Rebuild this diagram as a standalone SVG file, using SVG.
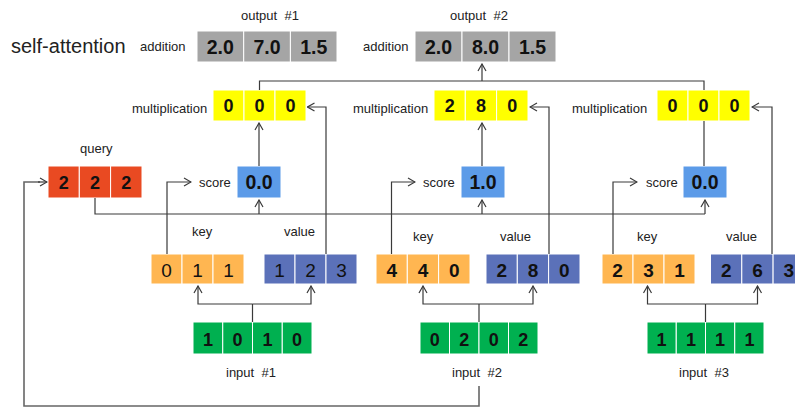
<svg xmlns="http://www.w3.org/2000/svg" width="795" height="408" viewBox="0 0 795 408">
<style>
text{font-family:"Liberation Sans",Arial,sans-serif;fill:#222}
.lbl{font-size:13px}
.title{font-size:20px}
.n{font-weight:bold;text-anchor:middle;fill:#111}
.ng{font-size:19.5px}
.ny{font-size:18px}
.nk{font-size:19px}
.nr{font-weight:normal}
rect{stroke:#fff;stroke-width:1}
.gray{fill:#A5A5A5}
.yel{fill:#FFFF00}
.red{fill:#E94A22}
.sc{fill:#5C9BE8}
.key{fill:#FFB651}
.val{fill:#5B71B9}
.grn{fill:#00B050}
.c{fill:none;stroke:#3a3a3a;stroke-width:1.2}
.cb{fill:none;stroke:#666;stroke-width:1.6}
</style>
<defs>
<marker id="ar" markerUnits="userSpaceOnUse" markerWidth="10" markerHeight="10" viewBox="0 0 10 10" refX="9" refY="5" orient="auto">
<path d="M2,1 L9,5 L2,9" fill="none" stroke="#3a3a3a" stroke-width="1.2"/>
</marker>
</defs>

<text class="title" x="11" y="53">self-attention</text>

<g id="output1">
<text class="lbl" x="241" y="19.5">output</text><text class="lbl" x="284.5" y="19.5">#1</text>
<text class="lbl" x="140" y="51">addition</text>
<rect class="gray" x="197" y="31" width="46.7" height="31"/>
<rect class="gray" x="243.7" y="31" width="46.7" height="31"/>
<rect class="gray" x="290.4" y="31" width="46.6" height="31"/>
<text class="n ng" x="220.3" y="53.5">2.0</text>
<text class="n ng" x="267" y="53.5">7.0</text>
<text class="n ng" x="313.7" y="53.5">1.5</text>
</g>

<g id="output2">
<text class="lbl" x="450" y="19.5">output</text><text class="lbl" x="493.5" y="19.5">#2</text>
<text class="lbl" x="363" y="51">addition</text>
<rect class="gray" x="415" y="31" width="47" height="31"/>
<rect class="gray" x="462" y="31" width="47" height="31"/>
<rect class="gray" x="509" y="31" width="47" height="31"/>
<text class="n ng" x="438.5" y="53.5">2.0</text>
<text class="n ng" x="485.5" y="53.5">8.0</text>
<text class="n ng" x="532.5" y="53.5">1.5</text>
</g>

<g id="mult1">
<text class="lbl" x="132" y="113">multiplication</text>
<rect class="yel" x="213" y="90" width="31" height="31"/>
<rect class="yel" x="244" y="90" width="31" height="31"/>
<rect class="yel" x="275" y="90" width="31" height="31"/>
<text class="n ny" x="228.5" y="112">0</text>
<text class="n ny" x="259.5" y="112">0</text>
<text class="n ny" x="290.5" y="112">0</text>
</g>

<g id="mult2">
<text class="lbl" x="353" y="113">multiplication</text>
<rect class="yel" x="434" y="90" width="31.3" height="31"/>
<rect class="yel" x="465.3" y="90" width="31.3" height="31"/>
<rect class="yel" x="496.6" y="90" width="31.4" height="31"/>
<text class="n ny" x="449.7" y="112">2</text>
<text class="n ny" x="481" y="112">8</text>
<text class="n ny" x="512.3" y="112">0</text>
</g>

<g id="mult3">
<text class="lbl" x="572" y="113">multiplication</text>
<rect class="yel" x="657" y="90" width="31" height="31"/>
<rect class="yel" x="688" y="90" width="31" height="31"/>
<rect class="yel" x="719" y="90" width="31" height="31"/>
<text class="n ny" x="672.5" y="112">0</text>
<text class="n ny" x="703.5" y="112">0</text>
<text class="n ny" x="734.5" y="112">0</text>
</g>

<g id="query">
<text class="lbl" x="80" y="153">query</text>
<rect class="red" x="48" y="166" width="31.3" height="32"/>
<rect class="red" x="79.3" y="166" width="31.3" height="32"/>
<rect class="red" x="110.6" y="166" width="31.4" height="32"/>
<text class="n ny" x="63.7" y="188.5">2</text>
<text class="n ny" x="95" y="188.5">2</text>
<text class="n ny" x="126.3" y="188.5">2</text>
</g>

<g id="score1">
<text class="lbl" x="199" y="186.5">score</text>
<rect class="sc" x="237" y="166" width="44" height="32"/>
<text class="n ng" x="259" y="189">0.0</text>
</g>
<g id="score2">
<text class="lbl" x="423" y="186.5">score</text>
<rect class="sc" x="461" y="166" width="44" height="32"/>
<text class="n ng" x="483" y="189">1.0</text>
</g>
<g id="score3">
<text class="lbl" x="646" y="186.5">score</text>
<rect class="sc" x="683" y="166" width="44" height="32"/>
<text class="n ng" x="705" y="189">0.0</text>
</g>

<g id="key1">
<text class="lbl" x="192" y="235.5">key</text>
<rect class="key" x="151" y="254" width="31" height="30"/>
<rect class="key" x="182" y="254" width="31" height="30"/>
<rect class="key" x="213" y="254" width="31" height="30"/>
<text class="n nk nr" x="166.5" y="276.5">0</text>
<text class="n nk nr" x="197.5" y="276.5">1</text>
<text class="n nk nr" x="228.5" y="276.5">1</text>
</g>
<g id="value1">
<text class="lbl" x="284" y="235.5">value</text>
<rect class="val" x="264" y="254" width="31" height="30"/>
<rect class="val" x="295" y="254" width="31" height="30"/>
<rect class="val" x="326" y="254" width="31" height="30"/>
<text class="n nk nr" x="279.5" y="276.5">1</text>
<text class="n nk nr" x="310.5" y="276.5">2</text>
<text class="n nk nr" x="341.5" y="276.5">3</text>
</g>

<g id="key2">
<text class="lbl" x="413" y="241">key</text>
<rect class="key" x="376" y="254" width="31.3" height="30"/>
<rect class="key" x="407.3" y="254" width="31.3" height="30"/>
<rect class="key" x="438.6" y="254" width="31.4" height="30"/>
<text class="n nk" x="391.7" y="276.5">4</text>
<text class="n nk" x="423" y="276.5">4</text>
<text class="n nk" x="454.3" y="276.5">0</text>
</g>
<g id="value2">
<text class="lbl" x="500" y="241">value</text>
<rect class="val" x="486" y="254" width="31.3" height="30"/>
<rect class="val" x="517.3" y="254" width="31.3" height="30"/>
<rect class="val" x="548.6" y="254" width="31.4" height="30"/>
<text class="n nk" x="501.7" y="276.5">2</text>
<text class="n nk" x="533" y="276.5">8</text>
<text class="n nk" x="564.3" y="276.5">0</text>
</g>

<g id="key3">
<text class="lbl" x="637" y="241">key</text>
<rect class="key" x="602" y="254" width="31" height="30"/>
<rect class="key" x="633" y="254" width="31" height="30"/>
<rect class="key" x="664" y="254" width="31" height="30"/>
<text class="n nk" x="617.5" y="276.5">2</text>
<text class="n nk" x="648.5" y="276.5">3</text>
<text class="n nk" x="679.5" y="276.5">1</text>
</g>
<g id="value3">
<text class="lbl" x="726" y="241">value</text>
<rect class="val" x="710.5" y="254" width="31.3" height="30"/>
<rect class="val" x="741.8" y="254" width="31.3" height="30"/>
<rect class="val" x="773.1" y="254" width="31.4" height="30"/>
<text class="n nk" x="726.2" y="276.5">2</text>
<text class="n nk" x="757.5" y="276.5">6</text>
<text class="n nk" x="788.8" y="276.5">3</text>
</g>

<g id="input1">
<rect class="grn" x="193" y="322" width="29.75" height="32"/>
<rect class="grn" x="222.75" y="322" width="29.75" height="32"/>
<rect class="grn" x="252.5" y="322" width="29.75" height="32"/>
<rect class="grn" x="282.25" y="322" width="29.75" height="32"/>
<text class="n ny" x="207.9" y="345.5">1</text>
<text class="n ny" x="237.6" y="345.5">0</text>
<text class="n ny" x="267.4" y="345.5">1</text>
<text class="n ny" x="297.1" y="345.5">0</text>
<text class="lbl" x="226" y="377">input</text><text class="lbl" x="261.5" y="377">#1</text>
</g>
<g id="input2">
<rect class="grn" x="420" y="322" width="29.5" height="32"/>
<rect class="grn" x="449.5" y="322" width="29.5" height="32"/>
<rect class="grn" x="479" y="322" width="29.5" height="32"/>
<rect class="grn" x="508.5" y="322" width="29.5" height="32"/>
<text class="n ny" x="434.75" y="345.5">0</text>
<text class="n ny" x="464.25" y="345.5">2</text>
<text class="n ny" x="493.75" y="345.5">0</text>
<text class="n ny" x="523.25" y="345.5">2</text>
<text class="lbl" x="452" y="377">input</text><text class="lbl" x="487.5" y="377">#2</text>
</g>
<g id="input3">
<rect class="grn" x="647" y="322" width="29.25" height="32"/>
<rect class="grn" x="676.25" y="322" width="29.25" height="32"/>
<rect class="grn" x="705.5" y="322" width="29.25" height="32"/>
<rect class="grn" x="734.75" y="322" width="29.25" height="32"/>
<text class="n ny" x="661.6" y="345.5">1</text>
<text class="n ny" x="690.9" y="345.5">1</text>
<text class="n ny" x="720.1" y="345.5">1</text>
<text class="n ny" x="749.4" y="345.5">1</text>
<text class="lbl" x="679" y="377">input</text><text class="lbl" x="714.5" y="377">#3</text>
</g>

<g id="connectors">
<!-- input to key/value -->
<path class="c" d="M252.5,322 V304"/>
<path class="c" d="M252.5,304 H198 V286" marker-end="url(#ar)"/>
<path class="c" d="M252.5,304 H311 V286" marker-end="url(#ar)"/>
<path class="c" d="M479,322 V304"/>
<path class="c" d="M479,304 H423 V286" marker-end="url(#ar)"/>
<path class="c" d="M479,304 H533 V286" marker-end="url(#ar)"/>
<path class="c" d="M705.5,322 V304"/>
<path class="c" d="M705.5,304 H647.5 V286" marker-end="url(#ar)"/>
<path class="c" d="M705.5,304 H757.5 V286" marker-end="url(#ar)"/>
<!-- key to score -->
<path class="c" d="M167,254 V182 H191" marker-end="url(#ar)"/>
<path class="c" d="M391.5,254 V182 H415" marker-end="url(#ar)"/>
<path class="c" d="M613,254 V182 H637" marker-end="url(#ar)"/>
<!-- value to multiplication -->
<path class="c" d="M326,254 V107 H307.5" marker-end="url(#ar)"/>
<path class="c" d="M549,254 V107 H530" marker-end="url(#ar)"/>
<path class="c" d="M772,254 V107 H752" marker-end="url(#ar)"/>
<!-- query to scores -->
<path class="c" d="M95,198 V214 H705"/>
<path class="c" d="M259,214 V200" marker-end="url(#ar)"/>
<path class="c" d="M482,214 V200" marker-end="url(#ar)"/>
<path class="c" d="M705,214 V200" marker-end="url(#ar)"/>
<!-- score to multiplication -->
<path class="c" d="M259,166 V123" marker-end="url(#ar)"/>
<path class="c" d="M482,166 V123" marker-end="url(#ar)"/>
<path class="c" d="M704,166 V121"/>
<!-- multiplication to addition -->
<path class="c" d="M259.5,90 V81 H704 V90"/>
<path class="c" d="M482,81 V64" marker-end="url(#ar)"/>
<!-- input #2 loop to query -->
<path class="cb" d="M479,386 V406 H24 V182 H40"/>
<path class="c" d="M38,182 H47" marker-end="url(#ar)"/>
</g>
</svg>
